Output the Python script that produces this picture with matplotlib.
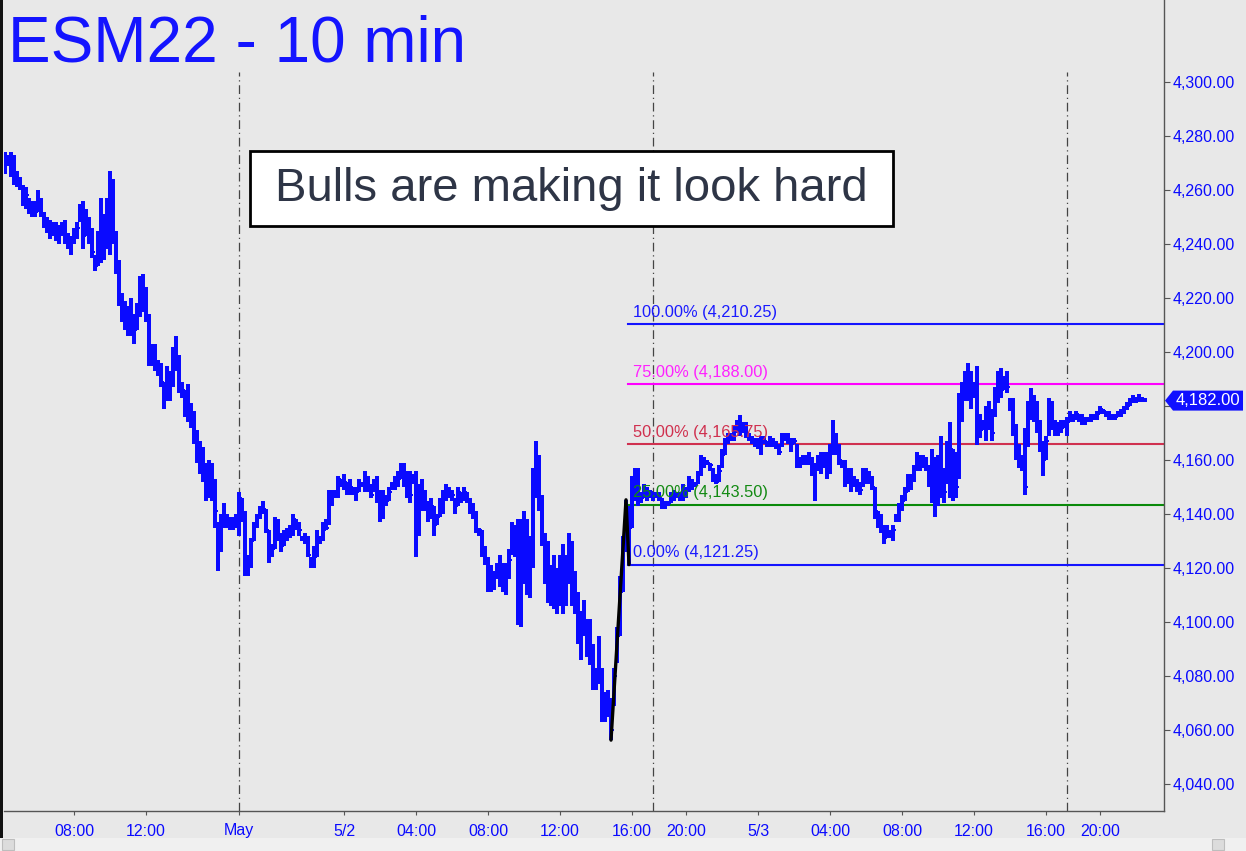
import numpy as np
import pandas as pd
import matplotlib
matplotlib.use("Agg")
import matplotlib.pyplot as plt
from matplotlib.collections import LineCollection
from matplotlib.patches import Rectangle, Polygon

plt.rcParams['font.family'] = ['Liberation Sans', 'DejaVu Sans']

# ---------------- data (10-minute bars) ----------------
highs = [
    4274, 4273, 4274, 4273, 4267, 4265, 4262, 4261, 4257, 4256,
    4256, 4260, 4257, 4252, 4250, 4249, 4248, 4248, 4247, 4248,
    4249, 4244, 4243, 4246, 4248, 4255, 4256, 4253, 4250, 4246,
    4236, 4245, 4257, 4251, 4257, 4267, 4264,
    4245, 4234, 4222, 4219, 4217, 4220, 4214, 4218, 4228, 4229,
    4224, 4214, 4203, 4203, 4197, 4196, 4189, 4195, 4193, 4202,
    4206, 4199, 4189, 4186, 4188, 4181, 4178, 4171, 4167, 4165,
    4159, 4160,
    4159, 4153, 4137, 4140, 4144, 4140, 4139, 4139, 4140, 4148,
    4146, 4141, 4125, 4131, 4137, 4140, 4143, 4145, 4142, 4134,
    4129, 4139, 4138, 4133, 4134, 4135, 4136, 4140, 4138, 4137,
    4132, 4133, 4132, 4124,
    4128, 4134, 4132, 4137, 4138, 4149, 4149, 4149, 4154, 4153,
    4155, 4152, 4153, 4150, 4150, 4153, 4152, 4156, 4154, 4151,
    4153, 4154, 4149, 4149, 4147, 4150, 4152, 4154, 4156, 4159,
    4159, 4156, 4156,
    4155, 4156, 4151, 4153, 4149, 4145, 4146, 4143, 4140, 4146,
    4149, 4151, 4150, 4149, 4146, 4150, 4148, 4150, 4148, 4146,
    4144, 4141, 4135, 4134, 4128, 4124, 4121, 4119, 4122, 4125,
    4122, 4122, 4127,
    4137, 4136, 4138, 4138, 4141, 4138, 4132, 4157, 4167, 4162,
    4147, 4133, 4130, 4121, 4125, 4120, 4125, 4129, 4125, 4133,
    4130, 4119, 4111, 4104, 4108, 4101, 4101, 4092, 4083, 4095,
    4083, 4074, 4075,
    4072, 4083, 4098, 4117, 4132, 4145.25, 4143, 4154, 4157, 4157,
    4148, 4151, 4150, 4149, 4148, 4148, 4148, 4146, 4145, 4145,
    4148, 4149, 4148, 4148, 4151, 4150, 4154, 4153, 4152, 4156,
    4162, 4161, 4160, 4159,
    4157, 4155, 4158, 4164, 4168, 4170, 4170, 4173, 4175, 4176.5,
    4174, 4174, 4170, 4169, 4168, 4168, 4169, 4169, 4167, 4169,
    4168, 4167, 4166, 4170, 4170, 4170, 4168, 4168, 4166, 4161,
    4162, 4162, 4163,
    4161, 4159, 4162, 4163, 4163, 4163, 4166, 4175, 4170, 4166,
    4160, 4160, 4157, 4157, 4154, 4153, 4152, 4157, 4157, 4156,
    4154, 4150, 4141, 4140, 4136, 4136, 4134, 4136, 4140, 4144,
    4147, 4150, 4155,
    4155, 4158, 4163, 4162, 4162, 4161, 4158, 4164, 4161, 4162,
    4169, 4157, 4167, 4174, 4164, 4163, 4185, 4189, 4193, 4196,
    4193, 4189, 4195, 4177, 4175, 4180, 4182, 4179, 4187, 4193,
    4194, 4191, 4193,
    4183, 4183, 4173.5, 4166, 4162, 4172, 4182, 4186.5, 4184, 4182,
    4175, 4167, 4169, 4183, 4182, 4175, 4174, 4175, 4175, 4176,
    4178, 4177, 4178, 4177, 4177, 4176, 4176, 4177, 4177, 4178,
    4180, 4179, 4178,
    4178, 4177, 4177, 4178, 4179, 4180, 4181.5, 4183, 4184, 4183.5,
    4184.5, 4183.5, 4183,
]
lows = [
    4266, 4269, 4265, 4262, 4261, 4260, 4254, 4253, 4251, 4250,
    4250, 4252, 4250, 4246, 4244, 4242, 4243, 4241, 4240, 4243,
    4240, 4238, 4236, 4240, 4242, 4248, 4238, 4243, 4240, 4235,
    4230, 4232, 4233, 4234, 4238, 4236, 4240,
    4229, 4217, 4211, 4208, 4206, 4206, 4203, 4208, 4213, 4215,
    4211, 4195, 4195, 4193, 4191, 4187, 4179, 4182, 4182, 4187,
    4193, 4185, 4183, 4176, 4174, 4172, 4166, 4159, 4155, 4152,
    4145, 4146,
    4145, 4135, 4119, 4126, 4135, 4135, 4134, 4134, 4135, 4132,
    4137, 4117, 4117, 4120, 4130, 4135, 4138, 4140, 4133, 4122,
    4124, 4127, 4130, 4126, 4128, 4130, 4131, 4132, 4134, 4132,
    4130, 4129, 4124, 4120,
    4120, 4124, 4129, 4130, 4134, 4136, 4143, 4146, 4146, 4150,
    4149, 4147, 4147, 4147, 4145, 4148, 4150, 4148, 4148, 4146,
    4148, 4144, 4137, 4138, 4143, 4145, 4149, 4149, 4150, 4153,
    4150, 4146, 4144,
    4151, 4124, 4132, 4141, 4141, 4137, 4138, 4132, 4136, 4139,
    4140, 4145, 4146, 4145, 4140, 4143, 4144, 4145, 4144, 4140,
    4138, 4133, 4132, 4124, 4121, 4111, 4111, 4112, 4116, 4113,
    4111, 4110, 4116,
    4125, 4124, 4099, 4098, 4114, 4110, 4109, 4120, 4146, 4141,
    4128, 4114, 4107, 4106, 4105, 4103, 4106, 4103, 4106, 4114,
    4106, 4103, 4092, 4086, 4095, 4087, 4084, 4075, 4075, 4077,
    4063, 4063, 4065,
    4056.25, 4069, 4085, 4095, 4111, 4126, 4121.25, 4135, 4145, 4143,
    4144, 4146, 4145, 4146, 4145, 4146, 4145, 4142, 4142, 4143,
    4144, 4145, 4146, 4145, 4145, 4146, 4148, 4149, 4150, 4151,
    4154, 4157, 4158, 4156,
    4152, 4151, 4152, 4157, 4162, 4166, 4167, 4167, 4170, 4169,
    4170, 4168, 4167, 4166, 4165, 4164, 4162, 4166, 4165, 4165,
    4165, 4164, 4162, 4165, 4167, 4166, 4163, 4166, 4157, 4157,
    4158, 4158, 4158,
    4154, 4145, 4156, 4155, 4157, 4153, 4155, 4162, 4162, 4158,
    4157, 4150, 4151, 4148, 4150, 4148, 4147, 4150, 4151, 4151,
    4149, 4138, 4135, 4133, 4129, 4131, 4131, 4130, 4137, 4137,
    4141, 4145, 4148,
    4149, 4152, 4156, 4156, 4157, 4156, 4150, 4144, 4139, 4143,
    4146, 4144, 4151, 4146, 4145, 4146, 4153, 4174, 4182, 4182,
    4179, 4183, 4165.5, 4168, 4171, 4167, 4171, 4167, 4176, 4181,
    4183, 4186, 4185,
    4178, 4169, 4160, 4157, 4156, 4147, 4165, 4175, 4174, 4170,
    4163, 4154, 4160, 4169, 4171, 4169, 4169, 4170, 4172, 4169,
    4174, 4174, 4175, 4174, 4173, 4173, 4174, 4174, 4175, 4175,
    4177, 4177, 4176,
    4175, 4175, 4175, 4176, 4176, 4177, 4178.5, 4180, 4181, 4181,
    4181.5, 4181.5, 4181.5,
]
closes = [
    4270, 4271, 4266, 4264, 4263, 4261, 4257, 4258, 4253, 4254,
    4252, 4255, 4251, 4248, 4246, 4245, 4247, 4243, 4245, 4246,
    4242, 4240, 4241, 4244, 4246, 4254, 4243, 4249, 4244, 4237,
    4232, 4234, 4250, 4240, 4252, 4262, 4243,
    4232, 4219, 4214, 4212, 4210, 4212, 4208, 4214, 4219, 4222,
    4213, 4198, 4198, 4196, 4194, 4189, 4184, 4184, 4190, 4194,
    4198, 4187, 4186, 4178, 4180, 4175, 4169, 4162, 4160, 4155,
    4151, 4148,
    4150, 4141, 4128, 4137, 4137, 4138, 4136, 4138, 4137, 4146,
    4140, 4121, 4122, 4130, 4136, 4139, 4141, 4142, 4134, 4126,
    4127, 4136, 4131, 4128, 4131, 4132, 4134, 4138, 4136, 4134,
    4131, 4130, 4125, 4122,
    4124, 4131, 4131, 4134, 4135, 4144, 4147, 4147, 4153, 4151,
    4152, 4149, 4150, 4149, 4148, 4151, 4151, 4150, 4150, 4147,
    4151, 4146, 4140, 4144, 4145, 4148, 4150, 4151, 4153, 4156,
    4153, 4149, 4147,
    4153, 4135, 4149, 4144, 4142, 4140, 4143, 4136, 4139, 4141,
    4148, 4149, 4148, 4147, 4143, 4148, 4146, 4148, 4145, 4142,
    4139, 4134, 4134, 4126, 4123, 4116, 4115, 4117, 4120, 4117,
    4115, 4118, 4123,
    4133, 4127, 4110, 4121, 4131, 4114, 4128, 4152, 4155, 4145,
    4130, 4124, 4112, 4112, 4110, 4112, 4118, 4110, 4120, 4118,
    4109, 4107, 4096, 4099, 4098, 4092, 4090, 4077, 4078, 4082,
    4066, 4068, 4070,
    4060, 4080, 4095, 4111, 4128, 4140, 4135, 4150, 4150, 4147,
    4146, 4148, 4147, 4148, 4147, 4147, 4146, 4143, 4144, 4144,
    4147, 4147, 4147, 4147, 4149, 4149, 4152, 4151, 4151, 4155,
    4160, 4159, 4159, 4158,
    4153, 4152, 4156, 4162, 4167, 4168, 4168, 4172, 4173, 4172,
    4172, 4170, 4168, 4167, 4166, 4166, 4168, 4167, 4166, 4167,
    4166, 4165, 4163, 4169, 4168, 4167, 4166, 4167, 4158, 4159,
    4160, 4159, 4160,
    4156, 4158, 4160, 4158, 4161, 4160, 4164, 4169, 4164, 4160,
    4158, 4154, 4153, 4152, 4151, 4150, 4149, 4155, 4154, 4152,
    4150, 4141, 4138, 4135, 4131, 4133, 4133, 4134, 4139, 4142,
    4145, 4148, 4154,
    4153, 4157, 4160, 4158, 4160, 4157, 4152, 4150, 4145, 4157,
    4152, 4148, 4160, 4164, 4160, 4150, 4183, 4184, 4188, 4186,
    4184, 4185, 4170, 4171, 4173, 4172, 4178, 4170, 4184, 4187,
    4186, 4188, 4187,
    4180, 4171, 4164, 4160, 4158, 4150, 4178, 4182, 4176, 4172,
    4166, 4160, 4167, 4178, 4174, 4171, 4172, 4172, 4173, 4174,
    4176, 4176, 4177, 4175, 4174, 4175, 4175, 4176, 4176, 4177,
    4179, 4178, 4177,
    4176, 4176, 4176, 4177, 4178, 4179, 4180, 4182, 4182, 4182,
    4183, 4182, 4182,
]

# session timeline (bar close times)
sessions = [
    ("2022-04-29 04:10", "2022-04-29 17:00"),
    ("2022-05-01 18:10", "2022-05-02 17:00"),
    ("2022-05-02 18:10", "2022-05-03 17:00"),
    ("2022-05-03 18:10", "2022-05-03 22:30"),
]
tick_times = ["2022-04-29 08:00", "2022-04-29 12:00", "2022-05-01 18:10",
              "2022-05-02 00:00", "2022-05-02 04:00", "2022-05-02 08:00",
              "2022-05-02 12:00", "2022-05-02 16:00", "2022-05-02 20:00",
              "2022-05-03 00:00", "2022-05-03 04:00", "2022-05-03 08:00",
              "2022-05-03 12:00", "2022-05-03 16:00", "2022-05-03 20:00"]
tick_labels = ["08:00", "12:00", "May", "5/2", "04:00", "08:00", "12:00",
               "16:00", "20:00", "5/3", "04:00", "08:00", "12:00", "16:00", "20:00"]

price_ticks = list(range(4040, 4301, 20))
last_price = 4182.00

# ABC projection anchors
fib_a, fib_b, fib_c = 4056.25, 4145.25, 4121.25
fib_ratios = [0.0, 0.25, 0.50, 0.75, 1.00]
fib_colors = ["#1414ff", "#0a8a0a", "#d0304f", "#ff00ff", "#1414ff"]
fib_text_colors = ["#1a1aff", "#138a13", "#d0304f", "#ff22ff", "#1a1aff"]

title = "ESM22 - 10 min"
note = "Bulls are making it look hard"

# ---------------- build ----------------
times = pd.DatetimeIndex(np.concatenate(
    [pd.date_range(s, e, freq="10min").values for s, e in sessions]))
n = min(len(times), len(highs), len(lows), len(closes))
times = times[:n]
H = np.array(highs[:n], float)
L = np.array(lows[:n], float)
C = np.array(closes[:n], float)
O = np.concatenate([[C[0]], C[:-1]])
idx = np.arange(n)
pos = pd.Series(idx, index=times)

W, Hpx = 1246, 851
fig = plt.figure(figsize=(W / 100, Hpx / 100), dpi=100)
bg = "#e8e8e8"
fig.patch.set_facecolor(bg)

ax_l, ax_r, ax_b, ax_t = 4, 1164, 811, 0
ax = fig.add_axes([ax_l / W, 1 - ax_b / Hpx, (ax_r - ax_l) / W, (ax_b - ax_t) / Hpx])
ax.set_facecolor(bg)
ax.set_xlim(-1 / 3, -1 / 3 + (ax_r - ax_l) / 3)
ax.set_ylim(4300 - (ax_b - 82) / 2.7, 4300 + 82 / 2.7)

blue = "#0a0aff"
# OHLC bars
vsegs, hsegs = [], []
for i in range(n):
    vsegs.append([(i, L[i]), (i, H[i])])
    hsegs.append([(i - 0.34, O[i]), (i, O[i])])
    hsegs.append([(i, C[i]), (i + 0.34, C[i])])
ax.add_collection(LineCollection(vsegs, colors=blue, linewidths=1.5, capstyle="butt",
                                 antialiaseds=False, zorder=3))
ax.add_collection(LineCollection(hsegs, colors=blue, linewidths=1.3, capstyle="butt",
                                 antialiaseds=False, zorder=3))

# session separators
sess_starts = [pos[pd.Timestamp(s)] for s, _ in sessions[1:]]
for s in sess_starts:
    ax.axvline(s, ymin=0, ymax=(ax_b - 72) / (ax_b - ax_t), color="#444444",
               lw=0.9, ls=(0, (7, 3, 1, 3)), zorder=1)

# ABC swing line
ia = int(np.argmin(np.abs(L - fib_a) + (idx < 190) * 1e6))
ib = int(np.argmin(np.abs(H - fib_b) + (idx < ia) * 1e6))
ic = int(np.argmin(np.abs(L - fib_c) + (idx < ib) * 1e6))
ax.plot([ia, ib, ic], [fib_a, fib_b, fib_c], color="black", lw=2.4,
        solid_capstyle="round", zorder=4)

# fib projection levels
rng = fib_b - fib_a
for r, col, tcol in zip(fib_ratios, fib_colors, fib_text_colors):
    lvl = fib_c + r * rng
    ax.plot([ic - 0.3, ax.get_xlim()[1]], [lvl, lvl], color=col, lw=1.5, zorder=2)
    ax.annotate(f"{r * 100:.2f}% ({lvl:,.2f})", (ic + 1.4, lvl), xytext=(0, 3),
                textcoords="offset points", ha="left", va="bottom",
                color=tcol, fontsize=11.8, zorder=5)

# axes styling
for sp in ["top", "left"]:
    ax.spines[sp].set_visible(False)
ax.spines["right"].set_color("#555555")
ax.spines["bottom"].set_color("#555555")
ax.spines["right"].set_linewidth(1.0)
ax.spines["bottom"].set_linewidth(1.0)

ax.yaxis.tick_right()
ax.set_yticks(price_ticks)
ax.set_yticklabels([f"{p:,.2f}" if p != 4180 else "" for p in price_ticks])
ax.tick_params(axis="y", colors="#555555", labelcolor=blue, labelsize=11.5,
               length=4, pad=2)
xt = [pos[pd.Timestamp(t)] for t in tick_times]
ax.set_xticks(xt)
ax.set_xticklabels(tick_labels)
ax.tick_params(axis="x", colors="#555555", labelcolor=blue, labelsize=11.5,
               length=3, pad=6)

# title
fig.text(8 / W, 1 - 62 / Hpx, title, color="#1414ff", fontsize=46,
         ha="left", va="baseline")

# annotation box
fig.patches.append(Rectangle((250 / W, 1 - 226 / Hpx), (893 - 250) / W, (226 - 151) / Hpx,
                             transform=fig.transFigure, facecolor="white",
                             edgecolor="black", lw=2, zorder=6))
fig.text((250 + 893) / 2 / W, 1 - 189 / Hpx, note, color="#2e3546", fontsize=34,
         ha="center", va="center", zorder=7)

# last price marker
yp = ax.transData.transform((0, last_price))[1] / Hpx
hh = 10 / Hpx
x0, x1, x2 = 1165 / W, 1173 / W, 1243 / W
fig.patches.append(Polygon([(x0, yp), (x1, yp + hh), (x2, yp + hh), (x2, yp - hh), (x1, yp - hh)],
                           closed=True, transform=fig.transFigure, facecolor="#1010ff",
                           edgecolor="none", zorder=8))
fig.text(1176 / W, yp, f"{last_price:,.2f}", color="white", fontsize=12,
         ha="left", va="center", zorder=9)

# scroll bar at bottom
fig.patches.append(Rectangle((0, 0), 1, 13 / Hpx, transform=fig.transFigure,
                             facecolor="#f0f0f0", edgecolor="none", zorder=1))
fig.patches.append(Rectangle((2 / W, 1 / Hpx), 12 / W, 11 / Hpx, transform=fig.transFigure,
                             facecolor="#dcdcdc", edgecolor="#bdbdbd", lw=0.8, zorder=2))
fig.patches.append(Rectangle((1212 / W, 1 / Hpx), 12 / W, 11 / Hpx, transform=fig.transFigure,
                             facecolor="#dcdcdc", edgecolor="#bdbdbd", lw=0.8, zorder=2))
# frame on the left edge
fig.patches.append(Rectangle((0, 13 / Hpx), 3 / W, 1, transform=fig.transFigure,
                             facecolor="#111111", edgecolor="none", zorder=2))

fig.savefig("out.png", dpi=100, facecolor=fig.get_facecolor())
